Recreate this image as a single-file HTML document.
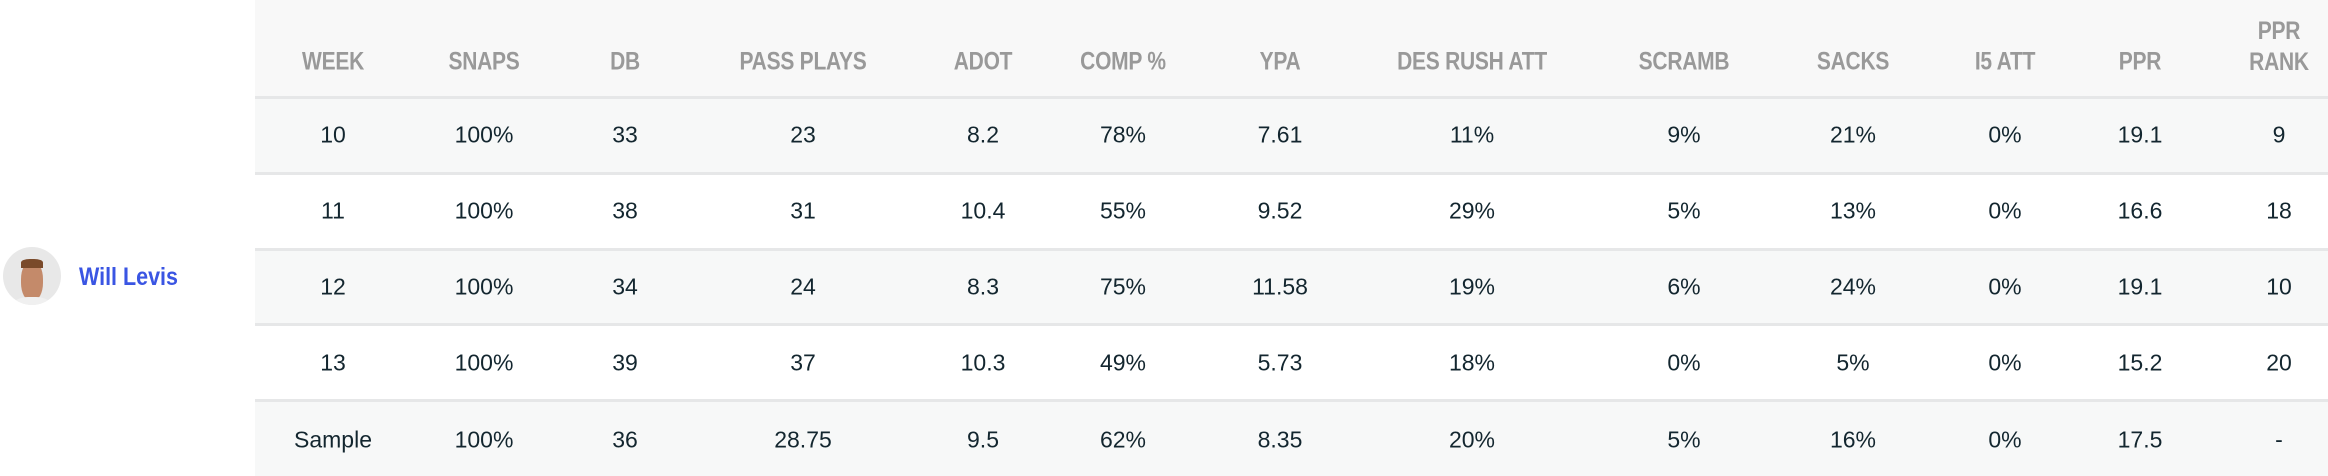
<!DOCTYPE html>
<html><head><meta charset="utf-8"><style>
html,body{margin:0;padding:0;width:2328px;height:476px;background:#fff;overflow:hidden;font-family:"Liberation Sans",sans-serif;}
.bg{position:absolute;left:255px;width:2073px;}
.line{position:absolute;left:255px;width:2073px;height:3px;background:#e6e7e8;}
.h{position:absolute;transform:translate(-50%,-50%) scaleX(0.84);color:#999;font-weight:bold;font-size:25px;white-space:nowrap;text-align:center;line-height:31px;letter-spacing:-0.3px;}
.c{position:absolute;transform:translate(-50%,-50%);color:#13262f;font-size:23px;white-space:nowrap;}
</style></head><body>
<div class="bg" style="top:0;height:97px;background:#f8f8f8"></div>
<div class="bg" style="top:97px;height:77px;background:#f7f8f8"></div>
<div class="bg" style="top:174px;height:75px;background:#fff"></div>
<div class="bg" style="top:249px;height:76px;background:#f7f8f8"></div>
<div class="bg" style="top:325px;height:76px;background:#fff"></div>
<div class="bg" style="top:401px;height:75px;background:#f7f8f8"></div>
<div class="line" style="top:96px"></div>
<div class="line" style="top:172px"></div>
<div class="line" style="top:248px"></div>
<div class="line" style="top:323px"></div>
<div class="line" style="top:399px"></div>
<div style="position:absolute;left:3px;top:247px;width:58px;height:58px;border-radius:50%;background:#e8e8e8;overflow:hidden">
<div style="position:absolute;left:18px;top:14px;width:22px;height:40px;border-radius:45%;background:#c48a6a"></div>
<div style="position:absolute;left:18px;top:12px;width:22px;height:9px;border-radius:40% 40% 0 0;background:#7a4a2a"></div>
<div style="position:absolute;left:10px;top:50px;width:38px;height:20px;border-radius:40%;background:#f0f0f0"></div>
</div>
<div style="position:absolute;left:79px;top:263px;color:#3a55e3;font-weight:bold;font-size:25px;transform:scaleX(0.86);transform-origin:left center">Will Levis</div>
<div id="t"></div>
<script>
var xs=[333,484,625,803,983,1123,1280,1472,1684,1853,2005,2140,2279];
var hd=["WEEK","SNAPS","DB","PASS PLAYS","ADOT","COMP %","YPA","DES RUSH ATT","SCRAMB","SACKS","I5 ATT","PPR","PPR<br>RANK"];
var rows=[["10","100%","33","23","8.2","78%","7.61","11%","9%","21%","0%","19.1","9"],
["11","100%","38","31","10.4","55%","9.52","29%","5%","13%","0%","16.6","18"],
["12","100%","34","24","8.3","75%","11.58","19%","6%","24%","0%","19.1","10"],
["13","100%","39","37","10.3","49%","5.73","18%","0%","5%","0%","15.2","20"],
["Sample","100%","36","28.75","9.5","62%","8.35","20%","5%","16%","0%","17.5","-"]];
var ys=[135,211,287,363,440];var h="";
for(var i=0;i<13;i++){h+='<div class="h" style="left:'+xs[i]+'px;top:'+(i==12?47:62)+'px">'+hd[i]+'</div>';}
for(var r=0;r<5;r++)for(var i=0;i<13;i++)h+='<div class="c" style="left:'+xs[i]+'px;top:'+ys[r]+'px">'+rows[r][i]+'</div>';
document.getElementById('t').innerHTML=h;
</script>
</body></html>
